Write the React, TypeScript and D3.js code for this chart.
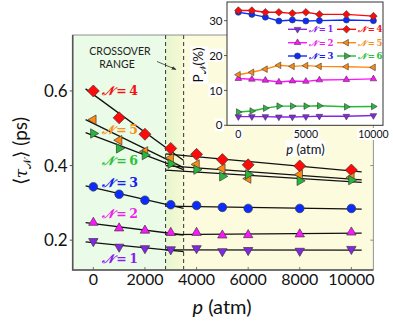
import React, { useEffect, useRef } from "react";
import * as d3 from "d3";

const W = 393, H = 324;

// pressure grid (atm)
const pressures = [0, 1000, 2000, 3000, 4000, 5000, 6000, 8000, 10000];

// mean lifetime <tau_N> (ps)
const tauN1 = [0.197, 0.182, 0.178, 0.175, 0.178, 0.170, 0.173, 0.171, 0.176];
const tauN2 = [0.247, 0.232, 0.226, 0.220, 0.220, 0.213, 0.214, 0.216, 0.221];
const tauN3 = [0.343, 0.323, 0.307, 0.295, 0.293, 0.288, 0.285, 0.285, 0.285];
const tauN4 = [0.600, 0.528, 0.484, 0.446, 0.430, 0.416, 0.402, 0.399, 0.388];
const tauN5 = [0.523, 0.468, 0.438, 0.420, 0.403, 0.392, 0.365, 0.376, 0.368];
const tauN6 = [0.486, 0.446, 0.428, 0.405, 0.389, 0.371, 0.376, 0.359, 0.361];

// population P_N (%) for the inset
const pctN1 = [2.5, 2.5, 2.5, 2.4, 2.4, 2.5, 2.6, 2.6, 2.8];
const pctN2 = [13.4, 13.2, 12.9, 12.4, 12.7, 12.6, 13.0, 13.1, 13.3];
const pctN3 = [32.4, 31.8, 31.0, 29.9, 30.2, 29.9, 30.0, 30.2, 30.0];
const pctN4 = [32.9, 32.9, 32.4, 32.4, 32.1, 32.4, 31.8, 31.8, 31.3];
const pctN5 = [14.5, 15.2, 16.1, 17.2, 16.9, 17.1, 16.9, 16.8, 16.6];
const pctN6 = [3.8, 4.1, 4.9, 5.5, 5.5, 5.5, 5.6, 5.3, 5.4];

const mainTicksX = [0, 2000, 4000, 6000, 8000, 10000];
const mainTicksY = [0.2, 0.4, 0.6];
const insetTicksX = [0, 5000, 10000];
const insetTicksY = [0, 10, 20, 30];

const crossover = [2800, 3500];

const series = [
  { n: "1", shape: "down", color: "#8426e6", text: "#8c1cf0", tau: tauN1, pct: pctN1, labelTau: 0.151 },
  { n: "2", shape: "up", color: "#ff14ff", text: "#f01cf0", tau: tauN2, pct: pctN2, labelTau: 0.272 },
  { n: "3", shape: "circle", color: "#0a2cff", text: "#1420f0", tau: tauN3, pct: pctN3, labelTau: 0.353 },
  { n: "4", shape: "diamond", color: "#ff0a0a", text: "#f01414", tau: tauN4, pct: pctN4, labelTau: 0.600 },
  { n: "5", shape: "left", color: "#ff8a10", text: "#f7901e", tau: tauN5, pct: pctN5, labelTau: 0.497 },
  { n: "6", shape: "right", color: "#26b83a", text: "#2cc03c", tau: tauN6, pct: pctN6, labelTau: 0.414 },
];

const SCRIPT_N = "\u{1D4A9}";

function markerPath(shape, s) {
  const a = 0.87 * s, b = 0.5 * s;
  switch (shape) {
    case "diamond": return `M0,${-s}L${s},0L0,${s}L${-s},0Z`;
    case "up": return `M0,${-s}L${a},${b}L${-a},${b}Z`;
    case "down": return `M0,${s}L${a},${-b}L${-a},${-b}Z`;
    case "left": return `M${-s},0L${b},${-a}L${b},${a}Z`;
    case "right": return `M${s},0L${-b},${-a}L${-b},${a}Z`;
    default: return d3.arc()({ innerRadius: 0, outerRadius: s * 0.8, startAngle: 0, endAngle: 2 * Math.PI });
  }
}

function fit(xs, ys) {
  const mx = d3.mean(xs), my = d3.mean(ys);
  const sxy = d3.sum(xs, (x, i) => (x - mx) * (ys[i] - my));
  const sxx = d3.sum(xs, x => (x - mx) * (x - mx));
  const k = sxy / sxx;
  return p => my + k * (p - mx);
}

function whiteBox(g, text, pad = 1) {
  const b = text.node().getBBox();
  g.insert("rect", () => text.node())
    .attr("x", b.x - pad).attr("y", b.y)
    .attr("width", b.width + 2 * pad).attr("height", b.height)
    .attr("fill", "#fff");
}

function nLabel(sel, num) {
  sel.append("tspan").attr("font-style", "italic").text(SCRIPT_N);
  sel.append("tspan").text("\u2009=\u2009" + num);
}

export default function App() {
  const ref = useRef(null);

  useEffect(() => {
    const svg = d3.select(ref.current);
    svg.selectAll("*").remove();

    // ---------------- main plot ----------------
    const m = { left: 72.7, right: 373.3, top: 35, bottom: 270 };
    const x = d3.scaleLinear().domain([-800, 10850]).range([m.left, m.right]);
    const y = d3.scaleLinear().domain([0.12, 0.75]).range([m.bottom, m.top]);

    const defs = svg.append("defs");
    const grad = defs.append("linearGradient").attr("id", "xgrad");
    grad.append("stop").attr("offset", "0%").attr("stop-color", "#e7f6cf");
    grad.append("stop").attr("offset", "100%").attr("stop-color", "#f6f9d4");
    const mk = defs.append("marker").attr("id", "arr")
      .attr("viewBox", "0 0 10 10").attr("refX", 9).attr("refY", 5)
      .attr("markerWidth", 6).attr("markerHeight", 6).attr("orient", "auto");
    mk.append("path").attr("d", "M0,1L10,5L0,9Z").attr("fill", "#333");

    const g = svg.append("g");
    g.append("rect").attr("x", m.left).attr("y", m.top)
      .attr("width", x(crossover[0]) - m.left).attr("height", m.bottom - m.top).attr("fill", "#eafbe7");
    g.append("rect").attr("x", x(crossover[0])).attr("y", m.top)
      .attr("width", x(crossover[1]) - x(crossover[0])).attr("height", m.bottom - m.top).attr("fill", "url(#xgrad)");
    g.append("rect").attr("x", x(crossover[1])).attr("y", m.top)
      .attr("width", m.right - x(crossover[1])).attr("height", m.bottom - m.top).attr("fill", "#fdfbdd");

    crossover.forEach(p => {
      g.append("line").attr("x1", x(p)).attr("x2", x(p)).attr("y1", m.top).attr("y2", m.bottom)
        .attr("stroke", "#333").attr("stroke-width", 1).attr("stroke-dasharray", "4,3");
    });

    // fit lines
    const lo = pressures.map((p, i) => i).filter(i => pressures[i] <= 3000);
    const hi = pressures.map((p, i) => i).filter(i => pressures[i] >= 4000);
    series.forEach(s => {
      const f1 = fit(lo.map(i => pressures[i]), lo.map(i => s.tau[i]));
      const f2 = fit(hi.map(i => pressures[i]), hi.map(i => s.tau[i]));
      [[f1, -300, 3500], [f2, 2800, 10400]].forEach(([f, a, b]) => {
        g.append("line").attr("x1", x(a)).attr("y1", y(f(a))).attr("x2", x(b)).attr("y2", y(f(b)))
          .attr("stroke", "#111").attr("stroke-width", 1.3);
      });
    });

    // markers
    series.forEach(s => {
      g.selectAll(null).data(s.tau).join("path")
        .attr("transform", (d, i) => `translate(${x(pressures[i])},${y(d)})`)
        .attr("d", markerPath(s.shape, s.shape === "diamond" ? 6 : 5.4))
        .attr("fill", s.color).attr("stroke", "#3a3a3a").attr("stroke-width", 0.7);
    });

    // series labels
    series.forEach(s => {
      const t = g.append("text").attr("x", x(0) + 8.5).attr("y", y(s.labelTau)).attr("dy", "0.35em")
        .attr("fill", s.text).attr("font-family", "DejaVu Serif").attr("font-weight", "bold")
        .attr("font-size", 12.5);
      nLabel(t, s.n);
    });

    // crossover annotation
    const ann = g.append("text").attr("font-family", "Lato").attr("font-size", 10.5).attr("fill", "#222")
      .attr("text-anchor", "middle");
    ann.append("tspan").attr("x", 120).attr("y", 54.5).text("CROSSOVER");
    ann.append("tspan").attr("x", 117).attr("y", 68).text("RANGE");
    g.append("line").attr("x1", 157).attr("y1", 61.5).attr("x2", 176).attr("y2", 69.5)
      .attr("stroke", "#333").attr("stroke-width", 0.8).attr("marker-end", "url(#arr)");

    // frame
    g.append("rect").attr("x", m.left).attr("y", m.top).attr("width", m.right - m.left)
      .attr("height", m.bottom - m.top).attr("fill", "none").attr("stroke", "#777").attr("stroke-width", 0.8);
    g.append("path").attr("d", `M${m.left},${m.top}V${m.bottom}H${m.right}`)
      .attr("fill", "none").attr("stroke", "#555").attr("stroke-width", 1.6);

    mainTicksY.forEach(v => {
      g.append("line").attr("x1", m.left - 3).attr("x2", m.left).attr("y1", y(v)).attr("y2", y(v))
        .attr("stroke", "#555").attr("stroke-width", 1);
      g.append("line").attr("x1", m.right - 3).attr("x2", m.right).attr("y1", y(v)).attr("y2", y(v))
        .attr("stroke", "#777").attr("stroke-width", 0.8);
      g.append("text").attr("x", m.left - 5).attr("y", y(v)).attr("dy", "0.36em").attr("text-anchor", "end")
        .attr("font-family", "Lato").attr("font-size", 17).attr("fill", "#111").text(d3.format(".1f")(v));
    });
    mainTicksX.forEach(v => {
      g.append("line").attr("x1", x(v)).attr("x2", x(v)).attr("y1", m.bottom - 3).attr("y2", m.bottom)
        .attr("stroke", "#555").attr("stroke-width", 0.8);
      g.append("text").attr("x", x(v)).attr("y", 284.5).attr("text-anchor", "middle")
        .attr("font-family", "Lato").attr("font-size", 16).attr("fill", "#111").text(v);
    });

    const xl = g.append("text").attr("x", 222).attr("y", 314).attr("text-anchor", "middle")
      .attr("font-family", "Lato").attr("font-size", 20).attr("fill", "#111");
    xl.append("tspan").attr("font-style", "italic").text("p");
    xl.append("tspan").text(" (atm)");

    const yl = g.append("text").attr("transform", "translate(27,151) rotate(-90)").attr("text-anchor", "middle")
      .attr("font-family", "Lato").attr("font-size", 19).attr("fill", "#111");
    yl.append("tspan").text("\u27E8");
    yl.append("tspan").attr("font-style", "italic").attr("font-family", "DejaVu Serif").attr("font-size", 17).text("\u03C4");
    yl.append("tspan").attr("font-family", "DejaVu Serif").attr("font-size", 11).attr("dy", 4).text(SCRIPT_N);
    yl.append("tspan").attr("dy", -4).text("\u27E9 (ps)");

    // ---------------- inset ----------------
    const n = { left: 227, right: 383, top: 2, bottom: 125.3 };
    const xi = d3.scaleLinear().domain([-840, 10710]).range([n.left, n.right]);
    const yi = d3.scaleLinear().domain([0, 35.35]).range([n.bottom, n.top]);
    const gi = svg.append("g");
    gi.append("rect").attr("x", n.left).attr("y", n.top).attr("width", n.right - n.left)
      .attr("height", n.bottom - n.top).attr("fill", "#fff");

    series.forEach(s => {
      gi.append("path").datum(s.pct)
        .attr("d", d3.line().x((d, i) => xi(pressures[i])).y(d => yi(d)))
        .attr("fill", "none").attr("stroke", s.color).attr("stroke-width", 1.4);
    });
    series.forEach(s => {
      gi.selectAll(null).data(s.pct).join("path")
        .attr("transform", (d, i) => `translate(${xi(pressures[i])},${yi(d)})`)
        .attr("d", markerPath(s.shape, 3.8))
        .attr("fill", s.color).attr("stroke", "#3a3a3a").attr("stroke-width", 0.6);
    });

    // inset legend
    const rows = [29.3, 42.7, 56];
    const cols = [288, 337];
    series.forEach((s, k) => {
      const cx = cols[Math.floor(k / 3)], cy = rows[k % 3];
      gi.append("line").attr("x1", cx).attr("x2", cx + 19).attr("y1", cy).attr("y2", cy)
        .attr("stroke", s.color).attr("stroke-width", 1.4);
      gi.append("path").attr("transform", `translate(${cx + 9.5},${cy})`)
        .attr("d", markerPath(s.shape, 3.8)).attr("fill", s.color)
        .attr("stroke", "#3a3a3a").attr("stroke-width", 0.6);
      const t = gi.append("text").attr("x", cx + 21).attr("y", cy).attr("dy", "0.35em")
        .attr("fill", s.text).attr("font-family", "DejaVu Serif").attr("font-weight", "bold")
        .attr("font-size", 8.5);
      nLabel(t, s.n);
    });

    gi.append("rect").attr("x", n.left).attr("y", n.top).attr("width", n.right - n.left)
      .attr("height", n.bottom - n.top).attr("fill", "none").attr("stroke", "#333").attr("stroke-width", 1);

    insetTicksY.forEach(v => {
      gi.append("line").attr("x1", n.left - 3).attr("x2", n.left).attr("y1", yi(v)).attr("y2", yi(v))
        .attr("stroke", "#333").attr("stroke-width", 0.8);
      const t = gi.append("text").attr("x", n.left - 4.5).attr("y", yi(v)).attr("dy", "0.36em")
        .attr("text-anchor", "end").attr("font-family", "Lato").attr("font-size", 11.5).attr("fill", "#111").text(v);
      whiteBox(gi, t);
    });
    insetTicksX.forEach(v => {
      const t = gi.append("text").attr("x", xi(v)).attr("y", 138).attr("text-anchor", "middle")
        .attr("font-family", "Lato").attr("font-size", 10.5).attr("fill", "#111").text(v);
      whiteBox(gi, t);
    });
    const ixl = gi.append("text").attr("x", 305.5).attr("y", 153.5).attr("text-anchor", "middle")
      .attr("font-family", "Lato").attr("font-size", 13).attr("fill", "#111");
    ixl.append("tspan").attr("font-style", "italic").text("p");
    ixl.append("tspan").text(" (atm)");
    whiteBox(gi, ixl);

    const iyl = gi.append("text").attr("transform", "translate(203,65) rotate(-90)").attr("text-anchor", "middle")
      .attr("font-family", "Lato").attr("font-size", 13.5).attr("fill", "#111");
    iyl.append("tspan").text("P");
    iyl.append("tspan").attr("font-family", "DejaVu Serif").attr("font-size", 9).attr("dy", 3).text(SCRIPT_N);
    iyl.append("tspan").attr("dy", -3).text("(%)");
    const b = iyl.node().getBBox();
    gi.insert("rect", () => iyl.node()).attr("transform", "translate(203,65) rotate(-90)")
      .attr("x", b.x - 1).attr("y", b.y).attr("width", b.width + 2).attr("height", b.height).attr("fill", "#fff");
  }, []);

  return (
    <svg ref={ref} width={W} height={H}
      style={{ position: "absolute", left: 0, top: 0, background: "#fff" }} />
  );
}
